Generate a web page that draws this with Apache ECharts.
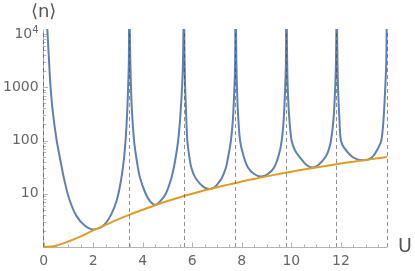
<!DOCTYPE html>
<html>
<head>
<meta charset="utf-8">
<script src="https://cdn.jsdelivr.net/npm/echarts@6/dist/echarts.min.js"></script>
<style>html,body{margin:0;padding:0;background:#fff}#c{width:415px;height:271px}</style>
</head>
<body>
<div id="c"></div>
<script>
// ---- data ----
const poles = [0, 3.46, 5.66, 7.75, 9.8, 11.83, 13.86];

// blue curve; null = break at a pole
const blueU = [
  0.05, 0.1, 0.15, 0.2, 0.28, 0.38, 0.52, 0.67, 0.83, 1.04, 1.33, 1.67, 2.0, 2.4, 2.73, 2.96, 3.13, 3.24, 3.31, 3.37, 3.41, 3.44, 3.45, 3.46,
  3.47, 3.49, 3.52, 3.56, 3.65, 3.75, 3.89, 4.12, 4.3, 4.49, 4.7, 4.93, 5.16, 5.3, 5.43, 5.52, 5.6, 5.63, 5.65, 5.66,
  5.67, 5.69, 5.72, 5.76, 5.8, 5.88, 5.96, 6.1, 6.29, 6.5, 6.69, 6.9, 7.05, 7.2, 7.36, 7.45, 7.56, 7.64, 7.7, 7.73, 7.74, 7.75,
  7.76, 7.78, 7.81, 7.86, 7.93, 8.05, 8.24, 8.5, 8.77, 9.05, 9.31, 9.5, 9.61, 9.69, 9.75, 9.78, 9.79, 9.8,
  9.81, 9.83, 9.86, 9.92, 10.01, 10.15, 10.32, 10.6, 10.85, 11.1, 11.39, 11.52, 11.6, 11.7, 11.77, 11.8, 11.82, 11.83,
  11.84, 11.86, 11.89, 11.94, 12.0, 12.14, 12.5, 12.89, 13.25, 13.49, 13.63, 13.72, 13.79, 13.83, 13.85
];
const blueN = [
  80000, 30000, 12000, 4500, 1000, 316, 105, 44, 18.6, 7.8, 3.8, 2.5, 2.14, 2.5, 4.1, 7.8, 18.6, 44, 105, 316, 1000, 3162, 25000, null,
  25000, 5000, 1300, 400, 100, 45, 20, 10, 7.2, 6.2, 7.2, 10, 20, 40, 100, 300, 1300, 4000, 25000, null,
  25000, 3000, 800, 250, 100, 50, 31, 21, 15.8, 13, 12.3, 13.3, 15.8, 20, 31, 50, 100, 250, 1000, 3000, 25000, null,
  25000, 3000, 800, 250, 100, 55, 31.6, 23.5, 21.2, 23.5, 31.6, 55, 100, 250, 1000, 3000, 25000, null,
  25000, 3000, 800, 250, 100, 65, 50, 35, 31, 35, 50, 70, 100, 250, 1000, 3000, 25000, null,
  25000, 3000, 800, 250, 100, 72, 48, 42.5, 48, 70, 100, 250, 1000, 3000, 25000
];

const orangeU = [0, 0.5, 1, 1.5, 2, 2.5, 3, 3.5, 4, 4.5, 5, 5.5, 6, 6.5, 7, 7.5, 8, 8.5, 9, 9.5, 10, 10.5, 11, 11.5, 12, 12.5, 13, 13.5, 13.86];
const orangeN = [1.0, 1.06, 1.27, 1.58, 2.05, 2.6, 3.3, 4.1, 5.0, 6.1, 7.3, 8.6, 10, 11.6, 13.3, 15, 17, 19, 21.2, 23.6, 26, 28.6, 31.2, 34, 37, 40, 43, 46.5, 49];

const xTickLabels = ['0', '2', '4', '6', '8', '10', '12'];
const yTickLabels = ['10', '100', '1000', '10^4'];

// tick marks (axis decoration)
const xMajor = [0, 2, 4, 6, 8, 10, 12];
const xMinor = [];
for (let i = 0; i <= 27; i++) { const v = i * 0.5; if (v % 2 !== 0) xMinor.push(v); }
const yMajor = [10, 100, 1000, 10000];
const yMinor = [];
[1, 10, 100, 1000].forEach(d => { for (let k = 2; k <= 9; k++) yMinor.push(k * d); });

const BLUE = '#5E81B5', ORANGE = '#E19C24', AXIS = '#b4b4b4', TXT = '#666';
const FONT = 'DejaVu Sans';

const xTickData = xMajor.map(v => [v, 1, 4.5]).concat(xMinor.map(v => [v, 1, 2.5]));
const yTickData = yMajor.map(v => [0, v, 4.5]).concat(yMinor.map(v => [0, v, 2.5]));

const chart = echarts.init(document.getElementById('c'), null, {renderer: 'canvas'});
chart.setOption({
  animation: false,
  grid: {left: 41, right: 28, top: 30, bottom: 24},
  xAxis: {
    type: 'value', min: 0, max: 13.86, interval: 2,
    axisLine: {lineStyle: {color: AXIS, width: 1}},
    axisTick: {show: false}, splitLine: {show: false},
    axisLabel: {
      color: TXT, fontSize: 14, fontFamily: FONT, margin: 7, showMaxLabel: false,
      formatter: v => { const i = xMajor.indexOf(v); return i >= 0 ? xTickLabels[i] : ''; }
    },
    name: 'U', nameLocation: 'end', nameGap: 11,
    nameTextStyle: {fontSize: 19, color: '#555', fontFamily: FONT, verticalAlign: 'middle', align: 'left'}
  },
  yAxis: {
    type: 'log', logBase: 10, min: 1, max: 11900,
    axisLine: {show: true, lineStyle: {color: AXIS, width: 1}},
    axisTick: {show: false}, splitLine: {show: false},
    axisLabel: {
      color: TXT, fontSize: 14, fontFamily: FONT, margin: 5, showMaxLabel: false,
      formatter: v => {
        const i = yMajor.indexOf(Math.round(v));
        if (i < 0 || Math.abs(v - yMajor[i]) > 1e-6 * yMajor[i]) return '';
        const t = yTickLabels[i];
        if (t.indexOf('^') >= 0) { const p = t.split('^'); return p[0] + '{s|' + p[1] + '}'; }
        return t;
      },
      rich: {s: {fontSize: 10, color: TXT, fontFamily: FONT, verticalAlign: 'top', padding: [0, 0, 7, 0]}}
    },
    name: '⟨n⟩', nameLocation: 'end', nameGap: 9,
    nameTextStyle: {fontSize: 18, color: '#555', fontFamily: FONT, align: 'center'}
  },
  series: [
    {
      type: 'custom', silent: true, z: 1, clip: false,
      data: xTickData,
      renderItem: (params, api) => {
        const p = api.coord([api.value(0), api.value(1)]);
        const x = Math.round(p[0]) + 0.5;
        return {type: 'line', shape: {x1: x, y1: p[1], x2: x, y2: p[1] - api.value(2)}, style: {stroke: AXIS, lineWidth: 1}};
      }
    },
    {
      type: 'custom', silent: true, z: 1, clip: false,
      data: yTickData,
      renderItem: (params, api) => {
        const p = api.coord([api.value(0), api.value(1)]);
        const y = Math.round(p[1]) + 0.5;
        return {type: 'line', shape: {x1: p[0], y1: y, x2: p[0] + api.value(2), y2: y}, style: {stroke: AXIS, lineWidth: 1}};
      }
    },
    {
      type: 'line', name: 'blue', z: 2, symbol: 'none', clip: true, connectNulls: false,
      smooth: 0.35,
      data: blueU.map((u, i) => [u, blueN[i]]),
      lineStyle: {color: BLUE, width: 2}
    },
    {
      type: 'line', name: 'orange', z: 3, symbol: 'none', clip: true,
      smooth: 0.3,
      data: orangeU.map((u, i) => [u, orangeN[i]]),
      lineStyle: {color: ORANGE, width: 2}
    },
    {
      type: 'line', name: 'poles', z: 4, symbol: 'none', data: [],
      markLine: {
        silent: true, symbol: ['none', 'none'], label: {show: false},
        lineStyle: {type: [4, 3], color: 'rgba(70,70,70,0.6)', width: 1},
        data: poles.map(u => ({xAxis: u}))
      }
    }
  ]
});
</script>
</body>
</html>
